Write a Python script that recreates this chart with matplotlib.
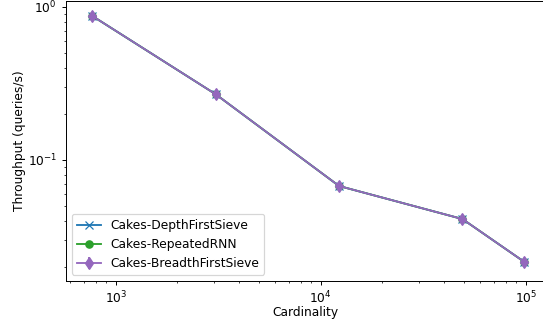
import matplotlib
matplotlib.use("Agg")
import matplotlib.pyplot as plt

cardinality = [768, 3072, 12288, 49152, 98304]
depth_first_sieve = [0.874, 0.269, 0.0676, 0.0411, 0.0216]
repeated_rnn = [0.874, 0.269, 0.0676, 0.0411, 0.0216]
breadth_first_sieve = [0.874, 0.269, 0.0676, 0.0411, 0.0216]

DPI = 88
fig = plt.figure(figsize=(543 / DPI, 322 / DPI), dpi=DPI)
ax = fig.add_axes([65.5 / 543, 41 / 322, 480.5 / 543, 280 / 322])

ax.plot(cardinality, depth_first_sieve, marker="x", color="tab:blue",
        label="Cakes-DepthFirstSieve")
ax.plot(cardinality, repeated_rnn, marker="o", color="tab:green",
        label="Cakes-RepeatedRNN")
ax.errorbar(cardinality, breadth_first_sieve,
            yerr=[[v * 0.04 for v in breadth_first_sieve],
                  [v * 0.04 for v in breadth_first_sieve]],
            marker="d", markersize=7, color="tab:purple",
            label="Cakes-BreadthFirstSieve")

ax.set_xscale("log")
ax.set_yscale("log")
ax.set_xlim(10 ** 2.755, 10 ** 5.099)
ax.set_ylim(10 ** -1.791, 10 ** 0.039)
ax.set_xlabel("Cardinality", labelpad=0)
ax.set_ylabel("Throughput (queries/s)", labelpad=1.5)
ax.legend(loc="lower left")

fig.savefig("out.png", dpi=DPI)
